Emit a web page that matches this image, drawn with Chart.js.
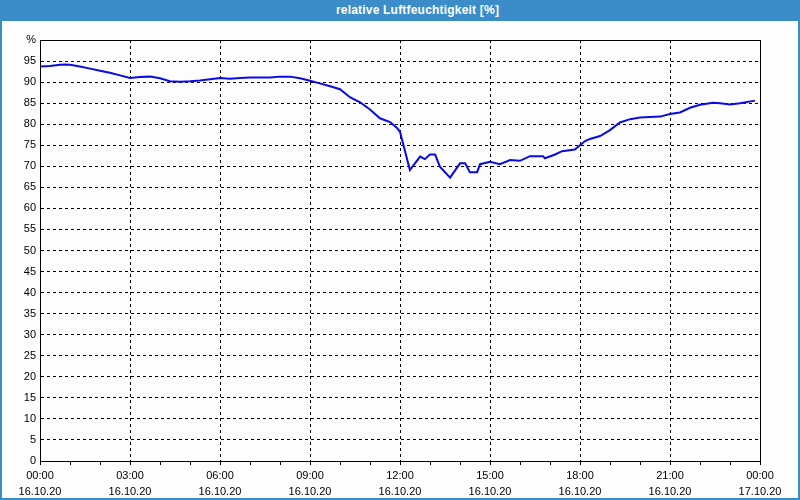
<!DOCTYPE html>
<html>
<head>
<meta charset="utf-8">
<script src="https://cdn.jsdelivr.net/npm/chart.js@4"></script>
<style>
  body { margin: 0; }
  #frame {
    position: relative; width: 800px; height: 500px; box-sizing: border-box;
    background: #fcfdfc; border: 2px solid #3a8dc8; border-top: none;
  }
  #titlebar {
    position: absolute; left: -2px; top: 0; width: 800px; height: 21px;
    box-sizing: border-box; padding-left: 35px;
    background: #3a8dc8; color: #fff; text-align: center;
    font: bold 12px "Liberation Sans", sans-serif; line-height: 21px; letter-spacing: 0.2px;
  }
  #myChart { position: absolute; left: -2px; top: 0; }
</style>
</head>
<body>
<div id="frame">
  <div id="titlebar">relative Luftfeuchtigkeit [%]</div>
  <canvas id="myChart" width="800" height="500"></canvas>
</div>
<script>
// hours since 16.10.20 00:00
var hours = [
  0, 0.33, 0.67, 0.83, 1, 1.33, 1.67, 2, 2.33, 2.67,
  3, 3.33, 3.67, 4, 4.33, 4.67, 5, 5.33, 5.67, 6,
  6.33, 6.67, 7, 7.33, 7.67, 8, 8.33, 8.67, 9, 9.33,
  9.67, 10, 10.33, 10.67, 11, 11.33, 11.67, 11.9, 12, 12.33,
  12.67, 12.83, 13, 13.17, 13.33, 13.67, 14, 14.17, 14.33, 14.57,
  14.67, 15, 15.33, 15.67, 16, 16.33, 16.77, 16.83, 17.17, 17.4,
  17.83, 18, 18.17, 18.33, 18.67, 19, 19.33, 19.67, 20, 20.67,
  21, 21.33, 21.67, 22, 22.43, 22.67, 23, 23.33, 23.83
];
var humidity = [
  93.7, 93.8, 94.1, 94.2, 94.1, 93.7, 93.2, 92.7, 92.2, 91.6,
  91.0, 91.2, 91.3, 90.9, 90.2, 90.1, 90.2, 90.4, 90.7, 91.0,
  90.8, 91.0, 91.1, 91.1, 91.1, 91.3, 91.3, 90.9, 90.3, 89.7,
  89.0, 88.3, 86.4, 85.2, 83.5, 81.4, 80.5, 79.1, 78.2, 69.1,
  72.3, 71.7, 72.8, 72.8, 69.9, 67.3, 70.7, 70.7, 68.6, 68.6,
  70.5, 71.1, 70.5, 71.5, 71.3, 72.4, 72.4, 71.9, 72.8, 73.6,
  74.0, 75.0, 76.0, 76.5, 77.2, 78.6, 80.4, 81.2, 81.6, 81.8,
  82.4, 82.8, 83.9, 84.6, 85.1, 85.0, 84.7, 85.0, 85.6
];
var timeLabels = ["00:00", "03:00", "06:00", "09:00", "12:00", "15:00", "18:00", "21:00", "00:00"];
var dateLabels = ["16.10.20", "16.10.20", "16.10.20", "16.10.20", "16.10.20", "16.10.20", "16.10.20", "16.10.20", "17.10.20"];

var points = hours.map(function (h, i) {
  return { x: h, y: humidity[i] };
});

var plotFrame = {
  id: "plotFrame",
  afterDraw: function (chart) {
    var a = chart.chartArea;
    var ctx = chart.ctx;
    ctx.save();
    ctx.strokeStyle = "#000";
    ctx.lineWidth = 1;
    ctx.strokeRect(Math.round(a.left) + 0.5, Math.round(a.top) + 0.5,
      Math.round(a.right - a.left), Math.round(a.bottom - a.top));
    ctx.restore();
  }
};

var labelFont = { family: "Liberation Sans", size: 11, lineHeight: 1.45 };

new Chart("myChart", {
  type: "line",
  data: {
    datasets: [{
      data: points,
      borderColor: "#0a0ae6",
      borderWidth: 2,
      pointRadius: 0,
      tension: 0,
      fill: false
    }]
  },
  options: {
    responsive: false,
    animation: false,
    layout: { padding: { top: 40, right: 40, left: 0, bottom: 0 } },
    plugins: { legend: { display: false }, tooltip: { enabled: false } },
    scales: {
      x: {
        type: "linear",
        min: 0,
        max: 24,
        afterFit: function (s) { s.height = 39; },
        ticks: {
          stepSize: 1,
          autoSkip: false,
          maxRotation: 0,
          padding: 3,
          color: "#000",
          font: labelFont,
          callback: function (v) {
            if (v % 3 !== 0) return "";
            return [timeLabels[v / 3], dateLabels[v / 3]];
          }
        },
        grid: {
          color: function (c) {
            return c.tick && c.tick.value % 3 === 0 && c.tick.value < 24 ? "#000" : "rgba(0,0,0,0)";
          },
          tickColor: "#000",
          tickLength: 4
        },
        border: { color: "#000", width: 1, dash: [3, 3] }
      },
      y: {
        min: 0,
        max: 100,
        afterFit: function (s) { s.width = 40; },
        ticks: {
          stepSize: 5,
          padding: 4,
          color: "#000",
          font: labelFont,
          callback: function (v) { return v === 100 ? "%" : v; }
        },
        grid: { color: "#000", drawTicks: false },
        border: { color: "#000", width: 1, dash: [3, 3] }
      }
    }
  },
  plugins: [plotFrame]
});
</script>
</body>
</html>
